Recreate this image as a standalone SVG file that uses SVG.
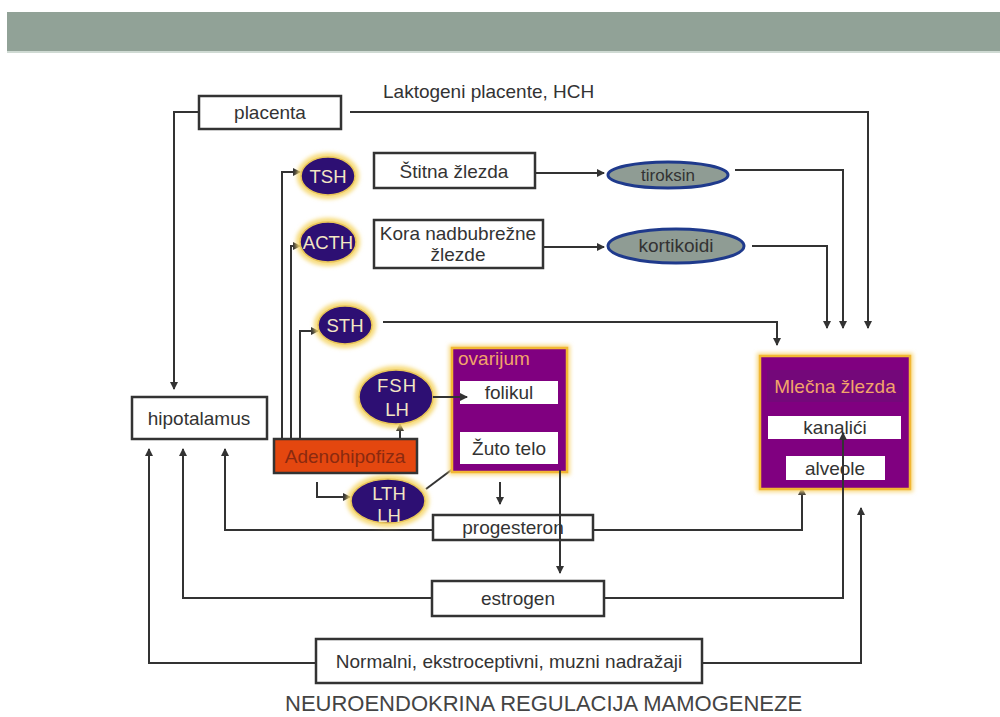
<svg xmlns="http://www.w3.org/2000/svg" width="1000" height="717" viewBox="0 0 1000 717">
<style>
text{font-family:"Liberation Sans",Arial,sans-serif;font-size:19px;fill:#333}
.c{text-anchor:middle}
.box{fill:#fff;stroke:#333;stroke-width:2.5}
.wbox{fill:#fff;stroke:none}
.hor{fill:#2d0f73;stroke:#e8c45a;stroke-width:1.5}
.hglow{fill:none;stroke:#f6d870;stroke-width:6;filter:url(#blur)}
.ht{fill:#f3e6c4;font-size:18.5px}
.pur{fill:#800080;stroke:#f2b733;stroke-width:2.5}
.pglow{fill:none;stroke:#f8d880;stroke-width:6;filter:url(#blur)}
.pt{fill:#f2a46a}
.gov{fill:#8f9c94;stroke:#1f3a8c;stroke-width:3}
.ln{fill:none;stroke:#333;stroke-width:2;marker-end:url(#ah)}
.ln0{fill:none;stroke:#333;stroke-width:2}
</style>
<defs>
<filter id="blur" x="-20%" y="-20%" width="140%" height="140%"><feGaussianBlur stdDeviation="2"/></filter>
<marker id="ah" viewBox="0 0 8 8" refX="7" refY="4" markerWidth="8" markerHeight="8" markerUnits="userSpaceOnUse" orient="auto"><path d="M0,0 L8,4 L0,8 z" fill="#333"/></marker>
</defs>
<rect x="7" y="12" width="993" height="39" fill="#91a297"/>
<rect x="7" y="51" width="993" height="2" fill="#cfdad3"/>
<text x="383" y="98">Laktogeni placente, HCH</text>
<g id="connectors">
<path class="ln" d="M199,112 H174 V389"/>
<path class="ln" d="M350,112 H868 V328"/>
<path class="ln" d="M282,440 V172 H300"/>
<path class="ln" d="M291,440 V246 H300"/>
<path class="ln" d="M300,440 V331 H318"/>
<path class="ln" d="M535,173 H604"/>
<path class="ln" d="M543,247 H604"/>
<path class="ln" d="M735,170 H843 V328"/>
<path class="ln" d="M752,246 H827 V328"/>
<path class="ln" d="M383,322 H777 V345"/>
<path class="ln" d="M400,439 V424"/>
<path class="ln" d="M317,482 V497 H350"/>
<path class="ln0" d="M426,489 L454,468"/>
<path class="ln" d="M500,482 V504"/>
<path class="ln" d="M433,530 H225 V449"/>
<path class="ln" d="M593,530 H802 V488"/>
<path class="ln" d="M432,598 H183 V449"/>
<path class="ln" d="M316,663 H149 V449"/>
<path class="ln" d="M703,663 H861 V508"/>
</g>
<g id="placenta"><rect class="box" x="199" y="96" width="142" height="33"/><text class="c" x="270" y="119">placenta</text></g>
<g id="hipotalamus"><rect class="box" x="132" y="397" width="135" height="42"/><text class="c" x="199" y="425">hipotalamus</text></g>
<g id="tsh"><ellipse class="hglow" cx="328" cy="176" rx="28" ry="20"/><ellipse class="hor" cx="328" cy="176" rx="27" ry="19"/><text class="c ht" x="328" y="183">TSH</text></g>
<g id="acth"><ellipse class="hglow" cx="328" cy="242" rx="29" ry="21"/><ellipse class="hor" cx="328" cy="242" rx="28" ry="20"/><text class="c ht" x="328" y="249">ACTH</text></g>
<g id="sth"><ellipse class="hglow" cx="345" cy="325" rx="28" ry="20"/><ellipse class="hor" cx="345" cy="325" rx="27" ry="19"/><text class="c ht" x="345" y="332">STH</text></g>
<g id="fshlh"><ellipse class="hglow" cx="396" cy="397" rx="38" ry="28"/><ellipse class="hor" cx="396" cy="397" rx="37" ry="27"/><text class="c ht" x="397" y="392" letter-spacing="1">FSH</text><text class="c ht" x="397" y="416">LH</text></g>
<g id="lthlh"><ellipse class="hglow" cx="388" cy="501" rx="38" ry="23"/><ellipse class="hor" cx="388" cy="501" rx="37" ry="22"/><text class="c ht" x="389" y="500">LTH</text><text class="c ht" x="389" y="522">LH</text></g>
<g id="stitna"><rect class="box" x="374" y="153" width="161" height="35"/><text class="c" x="454" y="178">Štitna žlezda</text></g>
<g id="kora"><rect class="box" x="374" y="220" width="169" height="48"/><text class="c" x="458" y="240">Kora nadbubrežne</text><text class="c" x="458" y="261">žlezde</text></g>
<g id="tiroksin"><ellipse class="gov" cx="668" cy="175" rx="60" ry="13"/><text class="c" x="668" y="181" style="font-size:17px">tiroksin</text></g>
<g id="kortikoidi"><ellipse class="gov" cx="676" cy="246" rx="68" ry="17"/><text class="c" x="676" y="252">kortikoidi</text></g>
<g id="adenohipofiza"><rect x="274" y="439" width="143" height="34" fill="#e4470f" stroke="#333" stroke-width="2.5"/><text class="c" x="345" y="463" style="fill:#8a2a10">Adenohipofiza</text></g>
<g id="ovarijum"><rect class="pglow" x="452" y="348" width="115" height="124"/><rect class="pur" x="452" y="348" width="115" height="124"/><text class="pt" x="458" y="365">ovarijum</text>
<g id="folikul"><rect class="wbox" x="460" y="381" width="98" height="23"/><text class="c" x="509" y="399">folikul</text></g>
<g id="zutotelo"><rect class="wbox" x="460" y="432" width="98" height="32"/><text class="c" x="509" y="455">Žuto telo</text></g></g>
<g id="progesteron"><rect class="box" x="433" y="515" width="160" height="25"/><text class="c" x="513" y="534">progesteron</text></g>
<g id="estrogen"><rect class="box" x="432" y="581" width="172" height="35"/><text class="c" x="518" y="605">estrogen</text></g>
<g id="nadrazaji"><rect class="box" x="316" y="639" width="386" height="44"/><text class="c" x="509" y="668">Normalni, ekstroceptivni, muzni nadražaji</text></g>
<g id="mlecna"><rect class="pglow" x="760" y="356" width="150" height="133"/><rect class="pur" x="760" y="356" width="150" height="133"/><rect x="767" y="370" width="136" height="32" fill="#74087a"/><text class="c pt" x="835" y="393">Mlečna žlezda</text>
<g id="kanalici"><rect class="wbox" x="768" y="416" width="133" height="23"/><text class="c" x="835" y="434">kanalići</text></g>
<g id="alveole"><rect class="wbox" x="786" y="456" width="99" height="24"/><text class="c" x="835" y="475">alveole</text></g></g>
<g id="connectors-over">
<path class="ln" d="M433,397 H467"/>
<path class="ln" d="M560,470 V573"/>
<path class="ln" d="M605,598 H843 V433"/>
</g>
<text x="285" y="711" style="font-size:22px;fill:#444">NEUROENDOKRINA REGULACIJA MAMOGENEZE</text>
</svg>
